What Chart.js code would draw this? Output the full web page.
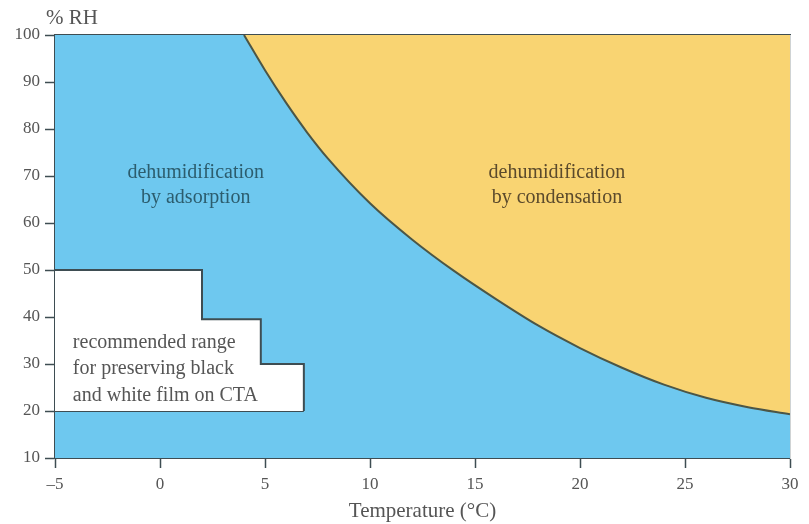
<!DOCTYPE html>
<html>
<head>
<meta charset="utf-8">
<script src="https://cdn.jsdelivr.net/npm/chart.js@4"></script>
<style>
  html, body { margin: 0; padding: 0; background: #fff; }
</style>
</head>
<body>
<canvas id="myChart" width="809" height="524"></canvas>
<script>
// dew point curve (RH at which condensation starts)
const curveT  = [4, 5, 6, 7, 8, 10, 12, 14, 16, 18, 20, 22, 24, 26, 28, 30];
const curveRH = [100, 92.5, 85.6, 79.3, 73.7, 64.2, 56.5, 49.8, 43.8, 38.2, 33.4, 29.2, 25.6, 22.8, 20.8, 19.3];

// recommended storage range for b/w film on CTA (stepped box)
const boxT  = [-5, 2, 2, 4.8, 4.8, 6.85, 6.85];
const boxRH = [50, 50, 39.5, 39.5, 30, 30, 20];
const boxBottomT  = [-5, 6.85];
const boxBottomRH = [20, 20];

const xTicks = [-5, 0, 5, 10, 15, 20, 25, 30];
const yTicks = [10, 20, 30, 40, 50, 60, 70, 80, 90, 100];

const toPoints = (xs, ys) => xs.map((x, i) => ({ x: x, y: ys[i] }));

const serif = '"Liberation Serif", "DejaVu Serif", serif';
const axisColor = '#3e4d52';
const blue = '#6ec8ef';
const yellow = '#f9d472';

// paint the whole plot area blue (adsorption zone) + the free texts
const areaPlugin = {
    id: 'areaPlugin',
    beforeDatasetsDraw(chart) {
        const a = chart.chartArea, c = chart.ctx;
        c.save();
        c.fillStyle = blue;
        c.fillRect(a.left, a.top, a.right - a.left, a.bottom - a.top);
        c.restore();
    },
    afterDraw(chart) {
        const c = chart.ctx, x = chart.scales.x, y = chart.scales.y;
        c.save();
        c.font = '20px ' + serif;
        c.textBaseline = 'middle';

        c.textAlign = 'center';
        c.fillStyle = '#2c5d6e';
        c.fillText('dehumidification', x.getPixelForValue(1.7), y.getPixelForValue(70.6));
        c.fillText('by adsorption', x.getPixelForValue(1.7), y.getPixelForValue(70.6) + 25);

        c.fillStyle = '#5b4a2c';
        c.fillText('dehumidification', x.getPixelForValue(18.9), y.getPixelForValue(70.6));
        c.fillText('by condensation', x.getPixelForValue(18.9), y.getPixelForValue(70.6) + 25);

        c.textAlign = 'left';
        c.fillStyle = '#555';
        const bx = x.getPixelForValue(-4.15), by = y.getPixelForValue(34.6);
        c.fillText('recommended range', bx, by);
        c.fillText('for preserving black', bx, by + 26.5);
        c.fillText('and white film on CTA', bx, by + 53);

        // unit label above the y axis
        c.font = '21px ' + serif;
        c.fillText('% RH', 46, 18);
        c.restore();
    }
};

const ctx = document.getElementById('myChart');

new Chart(ctx, {
    type: 'scatter',
    data: {
        datasets: [{
            label: 'condensation',
            data: toPoints(curveT, curveRH),
            showLine: true,
            cubicInterpolationMode: 'monotone',
            borderColor: '#4c5646',
            borderWidth: 2,
            backgroundColor: yellow,
            fill: 'end',
            pointRadius: 0
        }, {
            label: 'recommended range',
            data: toPoints(boxT, boxRH),
            showLine: true,
            borderColor: axisColor,
            borderWidth: 2,
            backgroundColor: '#ffffff',
            fill: { value: 20 },
            pointRadius: 0
        }, {
            label: 'box bottom',
            data: toPoints(boxBottomT, boxBottomRH),
            showLine: true,
            borderColor: axisColor,
            borderWidth: 2,
            fill: false,
            pointRadius: 0
        }]
    },
    options: {
        responsive: false,
        animation: false,
        events: [],
        layout: { padding: { left: 0, right: 19, top: 0, bottom: 0 } },
        plugins: {
            legend: { display: false },
            tooltip: { enabled: false }
        },
        scales: {
            x: {
                type: 'linear',
                min: -5, max: 30,
                z: 1,
                afterBuildTicks: s => { s.ticks = xTicks.map(v => ({ value: v })); },
                afterFit: s => { s.height = 66; },
                ticks: {
                    autoSkip: false,
                    color: '#555',
                    font: { family: serif, size: 17 },
                    padding: 6,
                    maxRotation: 0,
                    callback: v => String(v).replace('-', '\u2013')
                },
                grid: { drawOnChartArea: false, tickLength: 10, tickColor: axisColor, tickWidth: 1.5 },
                border: { color: axisColor, width: 2 },
                title: {
                    display: true,
                    text: 'Temperature (\u00b0C)',
                    color: '#555',
                    font: { family: serif, size: 21 },
                    padding: { top: 2, bottom: 0 }
                }
            },
            xTop: {
                type: 'linear',
                position: 'top',
                min: -5, max: 30,
                z: 1,
                afterFit: s => { s.height = 35; },
                ticks: { display: false },
                grid: { drawOnChartArea: false, drawTicks: false },
                border: { color: axisColor, width: 2 }
            },
            y: {
                min: 10, max: 100,
                z: 1,
                afterBuildTicks: s => { s.ticks = yTicks.map(v => ({ value: v })); },
                afterFit: s => { s.width = 55; },
                ticks: {
                    autoSkip: false,
                    color: '#555',
                    font: { family: serif, size: 17 },
                    padding: 5
                },
                grid: { drawOnChartArea: false, tickLength: 10, tickColor: axisColor, tickWidth: 1.5 },
                border: { color: axisColor, width: 2 }
            },
            yRight: {
                position: 'right',
                min: 10, max: 100,
                z: 1,
                afterFit: s => { s.width = 0; },
                ticks: { display: false },
                grid: { drawOnChartArea: false, drawTicks: false },
                border: { color: '#cfd3d4', width: 1 }
            }
        }
    },
    plugins: [areaPlugin]
});
</script>
</body>
</html>
